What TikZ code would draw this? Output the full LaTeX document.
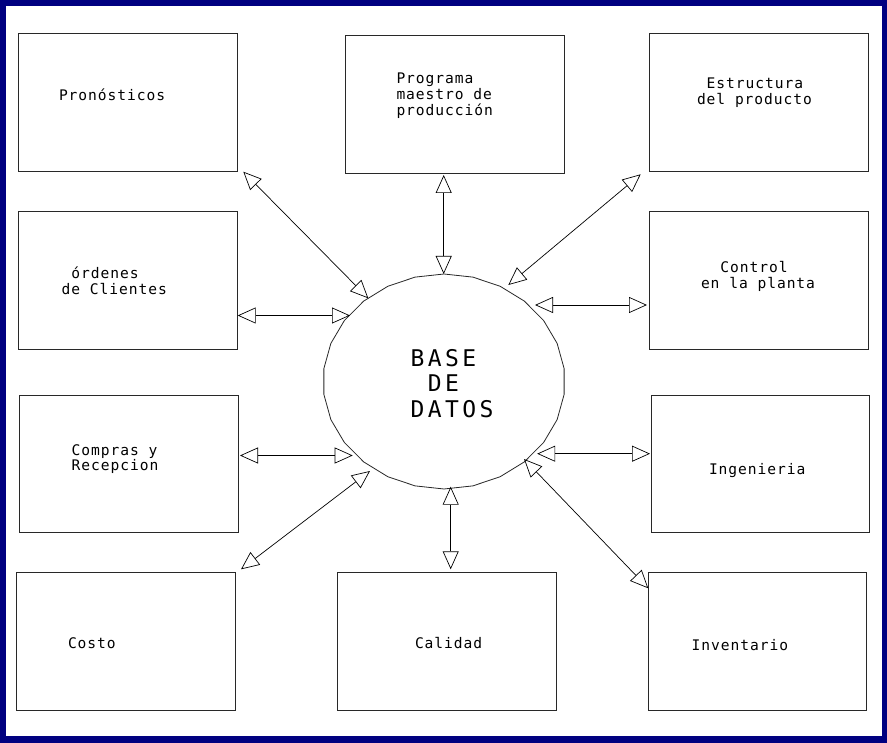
\documentclass[tikz,border=0pt]{standalone}
\usepackage{fontspec}
\usetikzlibrary{arrows.meta,calc,shapes.geometric}
\newfontfamily\cadfont{DejaVu Sans Mono}[LetterSpace=6.5]
\newfontfamily\cadbigfont{DejaVu Sans Mono}[LetterSpace=15]
\definecolor{framenavy}{RGB}{0,0,128}
\definecolor{inkgrey}{RGB}{40,40,40}
\begin{document}
\begin{tikzpicture}[x=1pt,y=-1pt,
  box/.style={draw=inkgrey,line width=0.8pt,minimum width=219pt,minimum height=138pt,inner sep=0pt,outer sep=0pt},
  label/.style={anchor=base west,inner sep=0pt,outer sep=0pt,font=\cadfont\fontsize{14.6}{15.7}\selectfont,align=left},
  biglabel/.style={anchor=base west,inner sep=0pt,outer sep=0pt,font=\cadbigfont\fontsize{23}{25.3}\selectfont,align=left},
  link/.style={draw=black,line width=0.7pt,{Triangle[open,length=18pt,width=16pt]}-{Triangle[open,length=18pt,width=16pt]}}]
\useasboundingbox (0,0) rectangle (887,743);
% frame
\fill[framenavy] (0,0) rectangle (887,743);
\fill[white] (6,6.5) rectangle (881.5,736);

% boxes
\node[box] (pron)  at (127.5,102)   {};
\node[box] (prog)  at (454.5,104)   {};
\node[box] (estr)  at (758.5,102)   {};
\node[box] (ord)   at (127.5,280)   {};
\node[box] (ctrl)  at (758.5,280)   {};
\node[box,minimum height=137pt] (comp) at (128.5,463.5) {};
\node[box,minimum width=218pt,minimum height=137pt] (ing) at (760,463.5) {};
\node[box] (costo) at (125.5,641)   {};
\node[box] (cal)   at (446.5,641)   {};
\node[box,minimum width=218pt] (inv) at (757,641) {};

% central data base (faceted outline)
\node[ellipse,minimum width=242pt,minimum height=215pt,inner sep=0pt,outer sep=0pt] (db) at (444,381.5) {};
\draw[inkgrey,line width=0.8pt] plot[samples=27,domain=90:450,variable=\t]
  ({444+121*cos(\t)},{381.5-107.5*sin(\t)}) -- cycle;

% texts (multi-line labels are placed by the baseline of their last line)
\node[label] (tpron)  at (59,101)      {Pronósticos};
\node[label] (tprog)  at (396.5,115.4) {Programa\\maestro de\\producción};
\node[label] (testr)  at (697,104.2)   {~Estructura\\del producto};
\node[label] (tord)   at (61.7,294.3)  {~órdenes\\de Clientes};
\node[label] (tctrl)  at (701,288.3)   {~~Control\\en la planta};
\node[label] (tcomp)  at (71.7,470.7)  {Compras y\\Recepcion};
\node[label] (ting)   at (709,475)     {Ingenieria};
\node[label] (tcosto) at (68,648)      {Costo};
\node[label] (tcal)   at (415,648)     {Calidad};
\node[label] (tinv)   at (691.7,650)   {Inventario};
\node[biglabel] (tdb) at (410.5,417.3) {BASE\\~DE\\DATOS};

% connectors
\draw[link] ($(pron.south east)+(6.3,0.7)$)  -- ($(db.center)+(-75.7,-83.2)$);
\draw[link] ($(prog.south)+(-10.8,2)$)       -- ($(db.center)+(-0.3,-107.5)$);
\draw[link] ($(estr.south west)+(-8.3,3.3)$) -- ($(db.center)+(64.3,-96.5)$);
\draw[link] ($(ord.east)+(0.7,35.5)$)        -- ($(db.center)+(-94,-66)$);
\draw[link] ($(ctrl.west)+(-2,25)$)          -- ($(db.center)+(91,-76.5)$);
\draw[link] ($(comp.east)+(2,-8)$)           -- ($(db.center)+(-91.3,74)$);
\draw[link] ($(ing.west)+(-1,-9.8)$)         -- ($(db.center)+(93.2,72.2)$);
\draw[link] ($(costo.north east)+(6,-2.7)$)  -- ($(db.center)+(-74,89.5)$);
\draw[link] ($(cal.north)+(4.2,-2.7)$)       -- ($(db.center)+(6.7,105.2)$);
\draw[link] ($(inv.north west)+(0.3,16.3)$)  -- ($(db.center)+(80,77.5)$);
\end{tikzpicture}
\end{document}
